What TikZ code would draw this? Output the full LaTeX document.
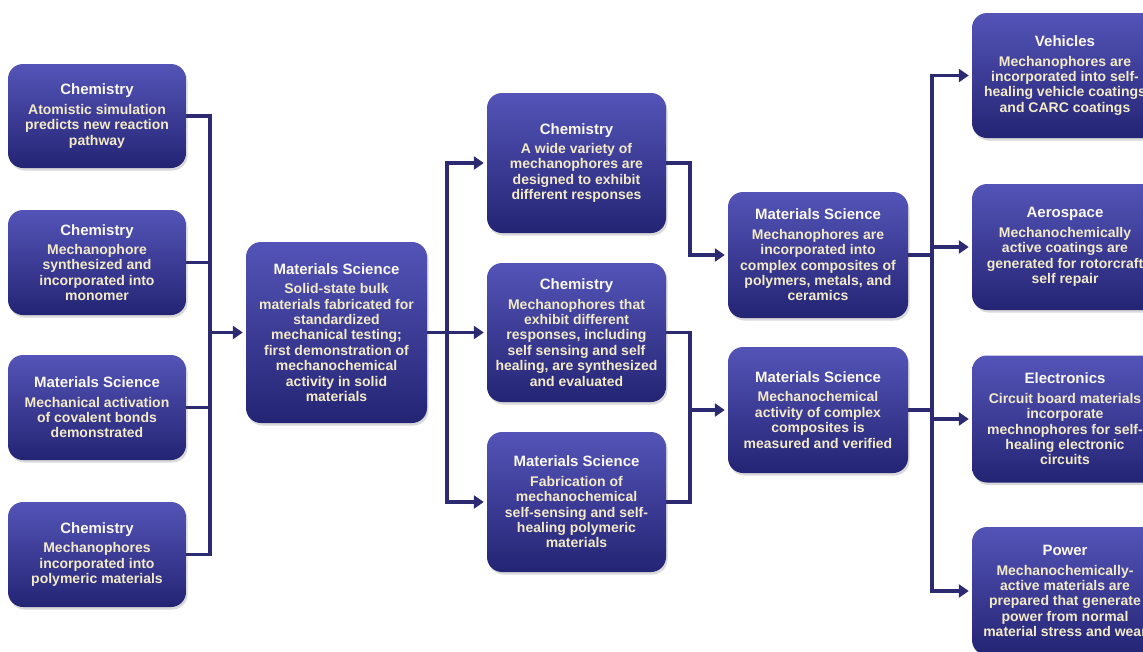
\documentclass[tikz,border=0pt]{standalone}
\usepackage{fontspec}
\setmainfont{Liberation Sans}
\usetikzlibrary{arrows.meta,shadows}

\definecolor{boxtop}{RGB}{84,84,184}
\definecolor{boxbot}{RGB}{36,36,116}
\definecolor{linecol}{RGB}{44,42,112}
\definecolor{titlecol}{RGB}{250,248,240}
\definecolor{bodycol}{RGB}{242,234,200}

\tikzset{
  stage/.style={rounded corners=15pt, top color=boxtop, bottom color=boxbot,
    draw=none, align=center, inner xsep=2pt, inner ysep=0pt, text=bodycol,
    font=\bfseries\fontsize{14}{15.4}\selectfont,
    drop shadow={opacity=0.3, shadow xshift=1.5pt, shadow yshift=-2.5pt}},
  link/.style={draw=linecol, line width=3.5pt},
  bus/.style={link, line cap=rect},
  flow/.style={link, -{Triangle[length=10pt,width=13pt]}, shorten >=3pt},
}
\newcommand{\hd}[1]{{\color{titlecol}\fontsize{15}{15}\selectfont #1}\\[4pt]}

\begin{document}
\begin{tikzpicture}[x=1pt, y=-1pt]
        \useasboundingbox (0,0) rectangle (1143,651);

        \node[stage, minimum width=178pt, minimum height=104pt] (chemSim) at (97,116)
          {\hd{Chemistry}Atomistic simulation\\predicts new reaction\\pathway};
        \node[stage, minimum width=178pt, minimum height=105pt] (chemMono) at (97,262.5)
          {\hd{Chemistry}Mechanophore\\synthesized and\\incorporated into\\monomer};
        \node[stage, minimum width=178pt, minimum height=105pt] (msBonds) at (97,407.5)
          {\hd{Materials Science}Mechanical activation\\of covalent bonds\\demonstrated};
        \node[stage, minimum width=178pt, minimum height=105pt] (chemPoly) at (97,554.5)
          {\hd{Chemistry}Mechanophores\\incorporated into\\polymeric materials};

        \node[stage, minimum width=181pt, minimum height=181pt] (bulk) at (336.5,332.5)
          {\hd{Materials Science}Solid-state bulk\\materials fabricated for\\standardized\\mechanical testing;\\first demonstration of\\mechanochemical\\activity in solid\\materials};

        \node[stage, minimum width=179pt, minimum height=140pt] (chemVariety) at (576.5,163)
          {\hd{Chemistry}A wide variety of\\mechanophores are\\designed to exhibit\\different responses};
        \node[stage, minimum width=179pt, minimum height=139pt] (chemResp) at (576.5,332.5)
          {\hd{Chemistry}Mechanophores that\\exhibit different\\responses, including\\self sensing and self\\healing, are synthesized\\and evaluated};
        \node[stage, minimum width=179pt, minimum height=140pt] (msFab) at (576.5,502)
          {\hd{Materials Science}Fabrication of\\mechanochemical\\self-sensing and self-\\healing polymeric\\materials};

        \node[stage, minimum width=180pt, minimum height=126pt] (msComp) at (818,255)
          {\hd{Materials Science}Mechanophores are\\incorporated into\\complex composites of\\polymers, metals, and\\ceramics};
        \node[stage, minimum width=180pt, minimum height=126pt] (msVerify) at (818,410)
          {\hd{Materials Science}Mechanochemical\\activity of complex\\composites is\\measured and verified};

        \node[stage, minimum width=186pt, minimum height=125pt] (vehicles) at (1065,75.5)
          {\hd{Vehicles}Mechanophores are\\incorporated into self-\\healing vehicle coatings\\and CARC coatings};
        \node[stage, minimum width=186pt, minimum height=126pt] (aero) at (1065,247)
          {\hd{Aerospace}Mechanochemically\\active coatings are\\generated for rotorcraft\\self repair};
        \node[stage, minimum width=186pt, minimum height=127pt] (electronics) at (1065,419)
          {\hd{Electronics}Circuit board materials\\incorporate\\mechnophores for self-\\healing electronic\\circuits};
        \node[stage, minimum width=186pt, minimum height=128pt] (power) at (1065,591)
          {\hd{Power}Mechanochemically-\\active materials are\\prepared that generate\\power from normal\\material stress and wear};

        \coordinate (busL) at (210,0);
        \coordinate (busM) at (447,0);
        \coordinate (busC) at (690,0);
        \coordinate (busR) at (932,0);

        \begin{scope}[every path/.style={link}]
        \draw (chemSim.east) -| (busL |- chemPoly.east) -- (chemPoly.east);
        \draw (chemMono.east) -- (busL |- chemMono.east);
        \draw (msBonds.east) -- (busL |- msBonds.east);
        \draw[flow] (busL |- bulk.west) -- (bulk.west);

        \draw (bulk.east) -- (busM |- bulk.east);
        \draw[bus] (busM |- chemVariety.west) -- (busM |- msFab.west);
        \draw[flow] (busM |- chemVariety.west) -- (chemVariety.west);
        \draw[flow] (busM |- chemResp.west) -- (chemResp.west);
        \draw[flow] (busM |- msFab.west) -- (msFab.west);

        \draw[flow] (chemVariety.east) -| (busC |- msComp.west) -- (msComp.west);
        \draw[flow] (chemResp.east) -| (busC |- msVerify.west) -- (msVerify.west);
        \draw (msFab.east) -| (busC |- msVerify.west);

        \draw (msComp.east) -- (busR |- msComp.east);
        \draw (msVerify.east) -- (busR |- msVerify.east);
        \draw[bus] (busR |- vehicles.west) -- (busR |- power.west);
        \draw[flow] (busR |- vehicles.west) -- (vehicles.west);
        \draw[flow] (busR |- aero.west) -- (aero.west);
        \draw[flow] (busR |- electronics.west) -- (electronics.west);
        \draw[flow] (busR |- power.west) -- (power.west);
        \end{scope}

\end{tikzpicture}
\end{document}
